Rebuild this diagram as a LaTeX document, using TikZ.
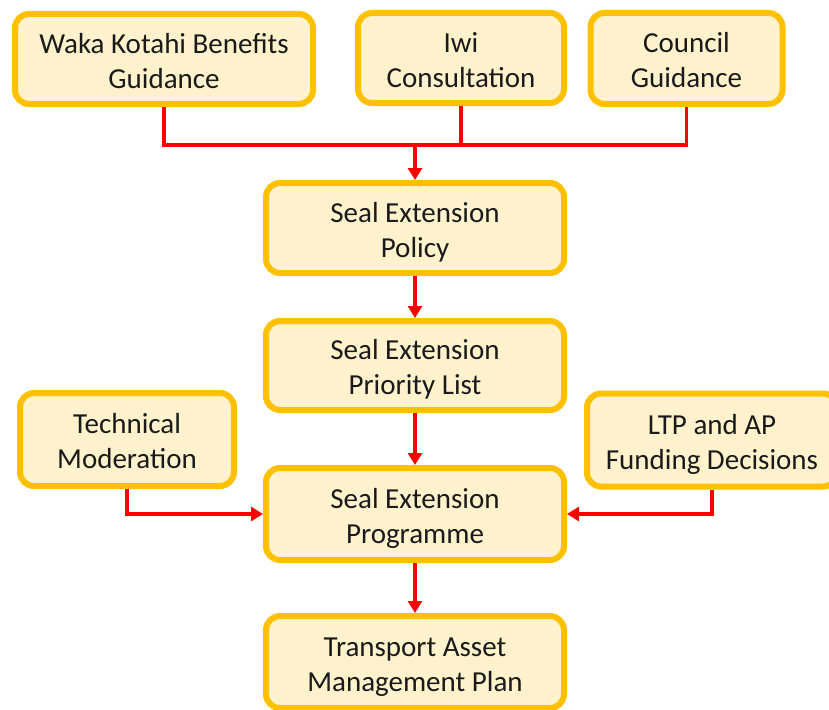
\documentclass[tikz,border=0pt]{standalone}
\usepackage{fontspec}
\setmainfont{Carlito}
\usetikzlibrary{arrows.meta}
\definecolor{boxfill}{HTML}{FFF2CC}
\definecolor{boxdraw}{HTML}{FFC000}
\definecolor{linkred}{HTML}{FF0000}
\definecolor{txt}{HTML}{1A1A1A}
\newcommand\twoline[2]{\raisebox{-11pt}[0pt][0pt]{\begin{tabular}{@{}c@{}}#1\\#2\end{tabular}}}
\begin{document}
\begin{tikzpicture}[x=1pt,y=-1pt,
  box/.style={draw=boxdraw, fill=boxfill, line width=6pt, rounded corners=14pt,
    text=txt, inner sep=0pt,
    font=\fontsize{29}{35}\selectfont},
  link/.style={draw=linkred, line width=3.5pt},
  arr/.style={link, -{Triangle[width=14pt,length=12pt]}}]
\useasboundingbox (0,0) rectangle (829,709);
\node[box, minimum width=298pt, minimum height=90pt] (waka) at (164,59) {\twoline{Waka Kotahi Benefits}{Guidance}};
\node[box, minimum width=206pt, minimum height=90pt] (iwi) at (461,58) {\twoline{Iwi}{Consultation}};
\node[box, minimum width=192pt, minimum height=91pt] (council) at (686.5,58.5) {\twoline{Council}{Guidance}};
\node[box, minimum width=298pt, minimum height=90pt] (policy) at (415,228) {\twoline{Seal Extension}{Policy}};
\node[box, minimum width=298pt, minimum height=89pt] (prio) at (415,365.5) {\twoline{Seal Extension}{Priority List}};
\node[box, minimum width=214pt, minimum height=93pt] (tech) at (127,439.5) {\twoline{Technical}{Moderation}};
\node[box, minimum width=298pt, minimum height=92pt] (prog) at (415,514) {\twoline{Seal Extension}{Programme}};
\node[box, minimum width=250pt, minimum height=93pt] (ltp) at (712,440) {\twoline{LTP and AP}{Funding Decisions}};
\node[box, minimum width=298pt, minimum height=92pt] (tamp) at (415,662) {\twoline{Transport Asset}{Management Plan}};
\coordinate (j) at (415,145);
\draw[link] (waka.south) |- (j);
\draw[link] (iwi.south) |- (j);
\draw[link] (council.south) |- (j);
\draw[arr] (j) -- (policy.north);
\draw[arr] (policy.south) -- (prio.north);
\draw[arr] (prio.south) -- (prog.north);
\draw[arr] (prog.south) -- (tamp.north);
\draw[arr] (tech.south) |- (prog.west);
\draw[arr] (ltp.south) |- (prog.east);
\end{tikzpicture}
\end{document}
